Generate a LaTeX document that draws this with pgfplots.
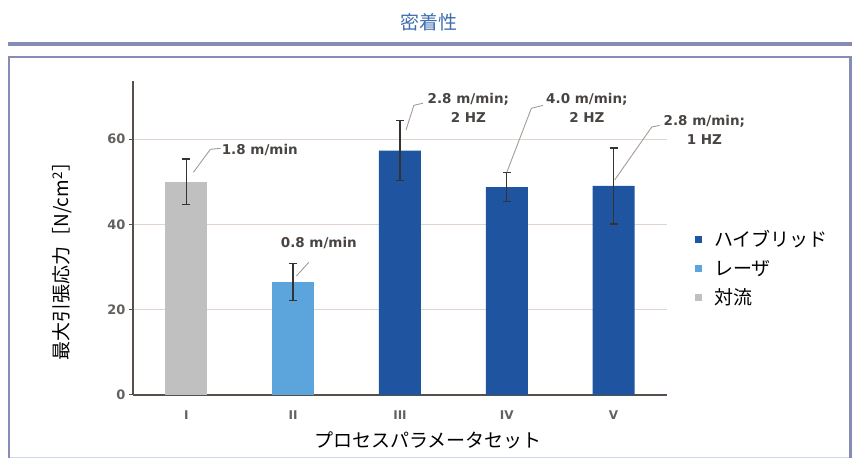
\documentclass[border=0pt]{standalone}
\usepackage{fontspec}
\setmainfont{DejaVu Sans}
\newfontfamily\cjk{Noto Sans CJK JP}
\usepackage{pgfplots}
\pgfplotsset{compat=1.18}
\definecolor{barGray}{RGB}{192,192,192}
\definecolor{barLight}{RGB}{92,165,220}
\definecolor{barDark}{RGB}{30,84,160}
\definecolor{gridc}{RGB}{225,212,205}
\definecolor{axisc}{RGB}{88,78,74}
\definecolor{leadc}{RGB}{165,155,148}
\definecolor{titleblue}{RGB}{62,110,175}
\definecolor{framec}{RGB}{135,140,180}
\definecolor{palec}{RGB}{205,215,240}
\definecolor{annc}{RGB}{72,68,66}
\definecolor{errc}{RGB}{55,50,50}
\begin{document}
\begin{tikzpicture}[x=1pt,y=1pt]
\path (0,0) rectangle (855,459);
% frame
\fill[framec] (8,413) rectangle (852,417);
\draw[palec, line width=1.5pt] (9,1.5) -- (850,1.5);
\draw[framec, line width=1.8pt] (9,1) -- (9,402) -- (850,402);
\draw[framec, line width=3pt] (850,403) -- (850,1);
\node[text=titleblue, font=\cjk\fontsize{19}{21}\selectfont] at (429,437) {密着性};
\begin{axis}[
  at={(133pt,64pt)}, anchor=south west,
  scale only axis, width=534pt, height=314pt,
  xmin=-0.5, xmax=4.5, ymin=0, ymax=73.6,
  clip=false,
  ybar,
  axis x line=bottom, axis y line=left,
  axis line style={-, draw=axisc, line width=1.8pt},
  xtick={0,1,2,3,4},
  xticklabels={I,II,III,IV,V},
  major x tick style={draw=none},
  ytick={0,20,40,60},
  tick align=outside,
  major tick length=4pt,
  y tick style={draw=axisc, line width=1pt},
  ymajorgrids,
  grid style={draw=gridc, line width=0.9pt},
  /pgf/number format/assume math mode=true,
  yticklabel style={font=\bfseries\fontsize{13}{15}\selectfont, text=annc!85},
  xticklabel style={font=\bfseries\fontsize{12}{14}\selectfont, text=annc!85, yshift=-8pt},
  xlabel={\cjk プロセスパラメータセット},
  xlabel style={at={(axis description cs:0.552,-0.143)}, anchor=center, font=\fontsize{19}{21}\selectfont},
  ylabel={\cjk 最大引張応力［N/cm\textsuperscript{2}］},
  ylabel style={at={(axis description cs:-0.133,0.44)}, anchor=center, font=\fontsize{19}{21}\selectfont},
  reverse legend,
  legend style={at={(1.047,0.404)}, anchor=west, draw=none, fill=none,
    font=\cjk\fontsize{19}{21}\selectfont, row sep=8pt, column sep=10pt,
    cells={anchor=west}},
  legend image code/.code={\fill[#1, draw=none] (0pt,-3.5pt) rectangle (7pt,3.5pt);},
  error bars/error bar style={draw=errc, line width=1.4pt},
  error bars/error mark options={rotate=90, mark size=4pt, line width=1.3pt, draw=errc},
]
\addplot[fill=barGray, draw=none, bar width=42pt, bar shift=0pt,
  error bars/.cd, y dir=both, y explicit]
  coordinates {(0,50.0) +- (0,5.3)};
\addlegendentry{対流}
\addplot[fill=barLight, draw=none, bar width=42pt, bar shift=0pt,
  error bars/.cd, y dir=both, y explicit]
  coordinates {(1,26.5) +- (0,4.4)};
\addlegendentry{レーザ}
\addplot[fill=barDark, draw=none, bar width=42pt, bar shift=0pt,
  error bars/.cd, y dir=both, y explicit]
  coordinates {(2,57.3) +- (0,7.0) (3,48.7) +- (0,3.4) (4,49.0) +- (0,8.9)};
\addlegendentry{ハイブリッド}
% annotations
\draw[leadc, line width=0.9pt] (axis cs:0.066,52.2) -- (axis cs:0.225,57.6) -- (axis cs:0.32,57.8);
\node[anchor=west, inner sep=0pt, text=annc, font=\bfseries\fontsize{13.5}{19}\selectfont] at (axis cs:0.33,57.4) {1.8 m/min};
\draw[leadc, line width=0.9pt] (axis cs:1.03,27.9) -- (axis cs:1.146,31.1);
\node[text=annc, font=\bfseries\fontsize{13.5}{19}\selectfont] at (axis cs:1.24,35.6) {0.8 m/min};
\draw[leadc, line width=0.9pt] (axis cs:2.056,62.1) -- (axis cs:2.13,67.9) -- (axis cs:2.216,68.4);
\node[align=center, text=annc, font=\bfseries\fontsize{13.5}{19}\selectfont] at (axis cs:2.64,67.4) {2.8 m/min;\\2 HZ};
\draw[leadc, line width=0.9pt] (axis cs:3.0,52.2) -- (axis cs:3.23,67.2) -- (axis cs:3.34,67.9);
\node[align=center, text=annc, font=\bfseries\fontsize{13.5}{19}\selectfont] at (axis cs:3.75,67.4) {4.0 m/min;\\2 HZ};
\draw[leadc, line width=0.9pt] (axis cs:4.01,50.4) -- (axis cs:4.357,62.8) -- (axis cs:4.43,63.2);
\node[align=center, text=annc, font=\bfseries\fontsize{13.5}{19}\selectfont] at (axis cs:4.85,62.1) {2.8 m/min;\\1 HZ};
\end{axis}
\end{tikzpicture}
\end{document}
